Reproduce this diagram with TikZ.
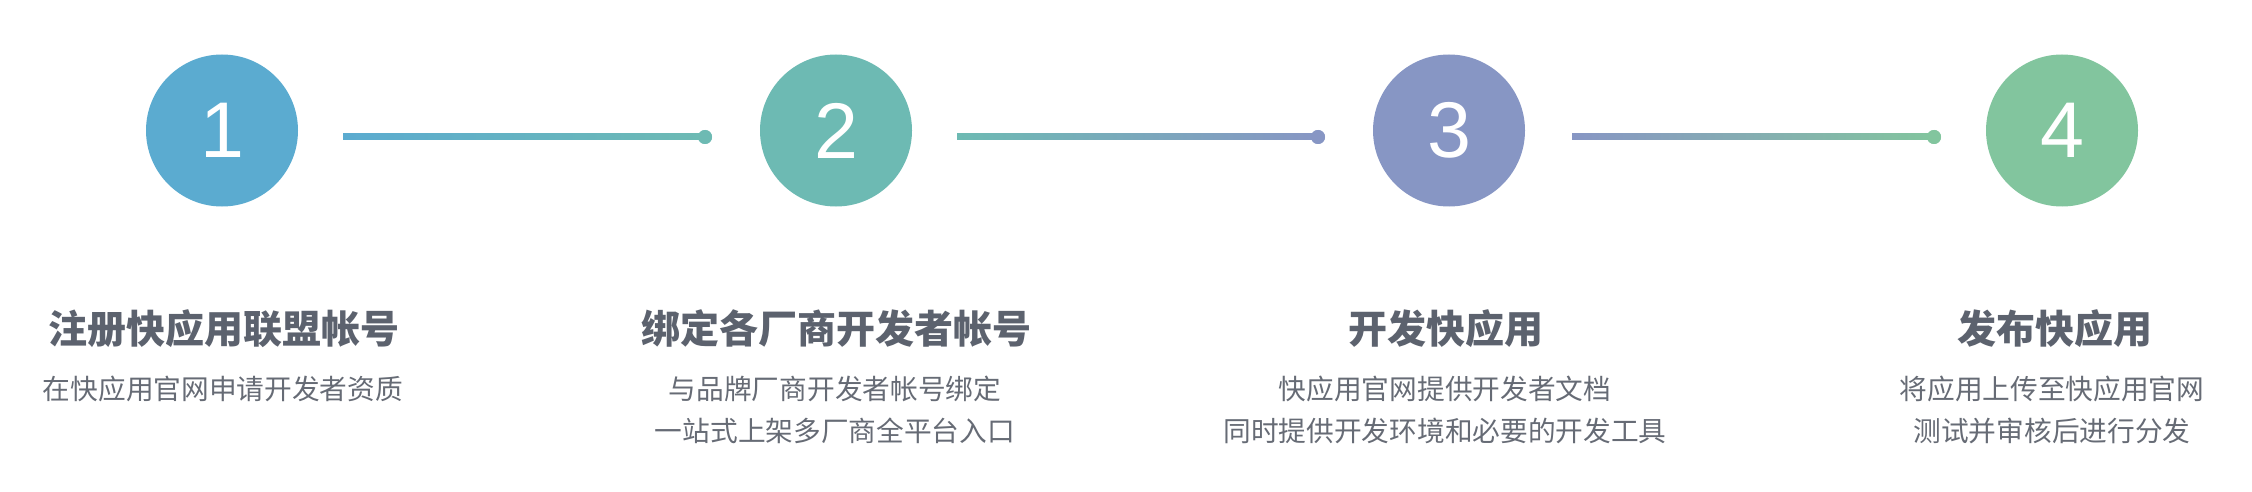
\documentclass[tikz,border=0pt]{standalone}
\usepackage{fontspec}
\setmainfont{Liberation Sans}
\newfontfamily\cjk{Noto Sans CJK SC}
\definecolor{cA}{HTML}{5BABD0}
\definecolor{cB}{HTML}{6DBAB3}
\definecolor{cC}{HTML}{8796C4}
\definecolor{cD}{HTML}{82C59E}
\definecolor{ttl}{HTML}{5C626E}
\definecolor{sbt}{HTML}{666B75}
\begin{document}
\begin{tikzpicture}[x=1pt,y=-1pt,
  stepcirc/.style={circle, fill=#1, minimum size=152pt, inner sep=0pt, text=white,
    font=\fontsize{79}{79}\selectfont},
  enddot/.style={circle, fill=#1, minimum size=14pt, inner sep=0pt},
  steptitle/.style={text=ttl, inner sep=0pt, font=\cjk\bfseries\fontsize{39}{39}\selectfont},
  stepsub/.style={text=sbt, inner sep=0pt, align=center, font=\cjk\fontsize{27.7}{42}\selectfont}]
\useasboundingbox (0,0) rectangle (2252,492);
% circles
\node[stepcirc=cA] (n1) at (222,130.5) {1};
\node[stepcirc=cB] (n2) at (836,130.5) {2};
\node[stepcirc=cC] (n3) at (1449,130.5) {3};
\node[stepcirc=cD] (n4) at (2062,130.5) {4};
% connectors
\coordinate (s1) at (343,137);
\coordinate (s2) at (957,137);
\coordinate (s3) at (1572,137);
\node[enddot=cB] (d1) at (705,137) {};
\node[enddot=cC] (d2) at (1318,137) {};
\node[enddot=cD] (d3) at (1934,137) {};
\shade[left color=cA, right color=cB] ([yshift=3pt]s1) rectangle ([yshift=-3pt]d1.center);
\shade[left color=cB, right color=cC] ([yshift=3pt]s2) rectangle ([yshift=-3pt]d2.center);
\shade[left color=cC, right color=cD] ([yshift=3pt]s3) rectangle ([yshift=-3pt]d3.center);
\node[enddot=cB] at (d1) {};
\node[enddot=cC] at (d2) {};
\node[enddot=cD] at (d3) {};
% titles
\node[steptitle] (t1) at (224,329) {注册快应用联盟帐号};
\node[steptitle] (t2) at (836,329) {绑定各厂商开发者帐号};
\node[steptitle] (t3) at (1446,329) {开发快应用};
\node[steptitle] (t4) at (2055,329) {发布快应用};
% subtitles
\node[stepsub] (u1) at (223,389) {在快应用官网申请开发者资质};
\node[stepsub] (u2) at (835,410) {与品牌厂商开发者帐号绑定\\一站式上架多厂商全平台入口};
\node[stepsub] (u3) at (1445,410) {快应用官网提供开发者文档\\同时提供开发环境和必要的开发工具};
\node[stepsub] (u4) at (2052,410) {将应用上传至快应用官网\\测试并审核后进行分发};
\end{tikzpicture}
\end{document}
